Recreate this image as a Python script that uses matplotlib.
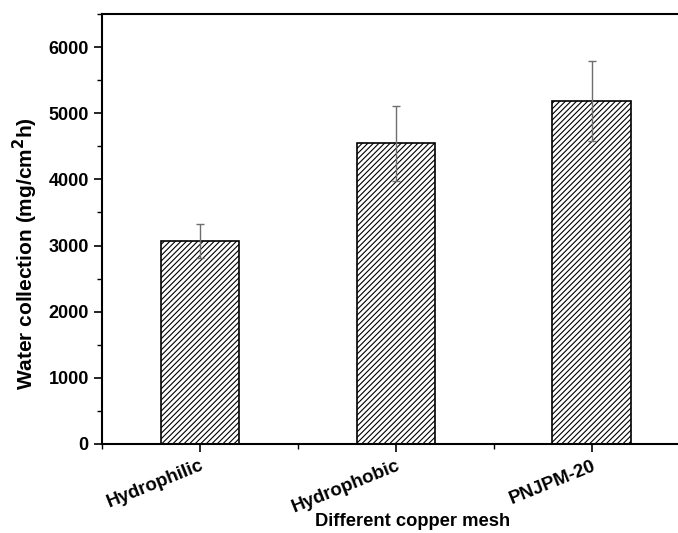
import matplotlib.pyplot as plt
import numpy as np
from matplotlib.ticker import MultipleLocator

plt.rcParams["font.family"] = ["Liberation Sans", "DejaVu Sans"]
plt.rcParams["font.weight"] = "bold"
plt.rcParams["hatch.linewidth"] = 0.8
plt.rcParams["hatch.color"] = "#5e5e5e"

categories = ["Hydrophilic", "Hydrophobic", "PNJPM-20"]
water_collection = [3065, 4545, 5185]
errors = [255, 568, 600]

x = np.arange(1, len(categories) + 1)

fig = plt.figure(figsize=(6.78, 5.33), dpi=100)
ax = fig.add_axes([0.1504, 0.167, 0.8666, 0.8068])

ax.bar(
    x,
    water_collection,
    0.4,
    color="white",
    edgecolor="black",
    linewidth=1.2,
    hatch="//////",
    zorder=2,
)
ax.errorbar(
    x,
    water_collection,
    yerr=errors,
    fmt="none",
    ecolor="#6e6e6e",
    elinewidth=1.0,
    capsize=3,
    capthick=1.0,
    zorder=3,
)

ax.set_xlim(0.5, 3.5)
ax.set_ylim(0, 6500)
ax.set_xticks(x)
ax.set_xticklabels(categories, rotation=22, ha="right", rotation_mode="anchor", fontsize=13.5, fontweight="bold")
ax.xaxis.set_minor_locator(MultipleLocator(1, offset=0.5))
ax.set_yticks(np.arange(0, 6001, 1000))
ax.yaxis.set_minor_locator(MultipleLocator(500))
ax.tick_params(axis="y", labelsize=13)
ax.tick_params(which="major", direction="out", length=6, width=1.2)
ax.tick_params(which="minor", direction="out", length=3.5, width=1.0)
for label in ax.get_yticklabels():
    label.set_fontweight("bold")
for spine in ax.spines.values():
    spine.set_linewidth(1.5)

ax.set_xlabel("Different copper mesh", fontsize=13.2, fontweight="bold", va="center")
ax.xaxis.set_label_coords(0.528, -0.181)
ax.set_ylabel(r"Water collection (mg/cm$^\mathbf{2}$h)", fontsize=15, fontweight="bold", va="center")
ax.yaxis.set_label_coords(-0.131, 0.442)

fig.savefig("out.png", dpi=100)
